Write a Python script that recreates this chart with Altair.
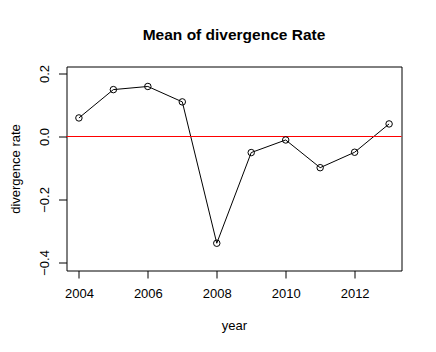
import altair as alt
import pandas as pd

years = [2004, 2005, 2006, 2007, 2008, 2009, 2010, 2011, 2012, 2013]
rates = [0.059, 0.149, 0.159, 0.110, -0.339, -0.051, -0.011, -0.099, -0.050, 0.040]
x_ticks = [2004, 2006, 2008, 2010, 2012]
y_ticks = [-0.4, -0.3, -0.2, -0.1, 0.0, 0.1, 0.2]

df = pd.DataFrame({"year": years, "rate": rates})
FONT = "Liberation Sans"

x = alt.X("year:Q",
          scale=alt.Scale(domain=[2003.64, 2013.36], nice=False, zero=False),
          axis=alt.Axis(values=x_ticks, format="d", title="year", grid=False,
                        domain=False, tickSize=7.5, tickColor="black", tickWidth=1,
                        labelFont=FONT, labelFontSize=13, labelColor="black",
                        labelBaseline="alphabetic", labelPadding=19,
                        titleFont=FONT, titleFontSize=13, titleFontWeight="normal",
                        titleColor="black", titleBaseline="alphabetic",
                        titleY=59))
y = alt.Y("rate:Q",
          scale=alt.Scale(domain=[-0.4256, 0.2224], nice=False, zero=False),
          axis=alt.Axis(values=y_ticks, format=".1f", title="divergence rate",
                        grid=False, domain=False, tickSize=8, tickColor="black", tickWidth=1,
                        labelExpr="(abs(datum.value + 0.1) < 0.001 || abs(datum.value + 0.3) < 0.001) ? '' : datum.label",
                        labelAngle=-90, labelAlign="center", labelBaseline="alphabetic",
                        labelPadding=10, labelFont=FONT, labelFontSize=13,
                        labelColor="black", labelOverlap=False,
                        titleFont=FONT, titleFontSize=13, titleFontWeight="normal",
                        titleColor="black", titleAngle=-90, titleBaseline="alphabetic",
                        titleAlign="center", titleX=-47, titleY=102))

base = alt.Chart(df)
line = base.mark_line(color="black", strokeWidth=1).encode(x=x, y=y)
pts = base.mark_point(shape="circle", filled=False, color="black", size=42,
                      strokeWidth=1, opacity=1).encode(x="year:Q", y="rate:Q")
zero = alt.Chart(pd.DataFrame({"z": [0.0]})).mark_rule(color="#ff0000", strokeWidth=1).encode(y="z:Q")

chart = alt.layer(line, zero, pts).properties(
    width=335, height=204,
    background="white",
    title=alt.TitleParams("Mean of divergence Rate", font=FONT, fontSize=15.5,
                          fontWeight="bold", color="black", anchor="middle",
                          baseline="alphabetic", offset=9.5),
    autosize=alt.AutoSizeParams(type="none"),
    padding={"left": 58.5, "top": 58.5, "right": 26.5, "bottom": 73.5},
).configure_view(stroke="black", strokeWidth=1)

chart.save("out.html", embed_options={"renderer": "svg", "actions": False})
